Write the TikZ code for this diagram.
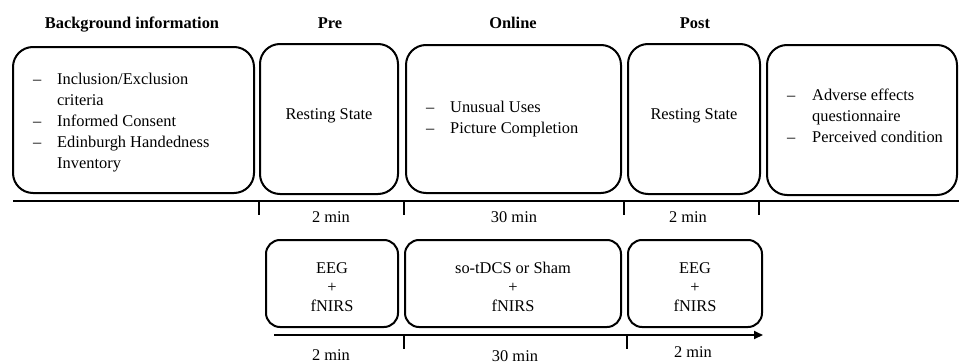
\documentclass[tikz,border=0pt]{standalone}
\usepackage{fontspec}
\setmainfont{Liberation Serif}
\usetikzlibrary{arrows.meta}
\begin{document}
\begin{tikzpicture}[x=1pt,y=-1pt,
  every node/.style={font=\fontsize{16.4}{21}\selectfont, inner sep=0pt},
  topbox/.style={draw, line width=2pt, rounded corners=20pt},
  botbox/.style={draw, line width=2pt, rounded corners=14pt, minimum height=87pt},
  head/.style={font=\fontsize{16.4}{21}\selectfont\bfseries, anchor=base},
  lbl/.style={anchor=base},
  list/.style={anchor=base west},
  btext/.style={anchor=base, font=\fontsize{16.4}{19}\selectfont},
  tickline/.style={line width=2pt},
  axisline/.style={line width=2.4pt}]
\useasboundingbox (0,0) rectangle (959,364);

% headings
\node[head] (hbg) at (132,28) {Background information};
\node[head] (hpre) at (330,28) {Pre};
\node[head] (honl) at (513,28) {Online};
\node[head] (hpost) at (695,28) {Post};

% top boxes
\node[topbox, minimum width=241pt, minimum height=146pt] (bg) at (133.5,120) {};
\node[topbox, minimum width=138pt, minimum height=150pt] (pre) at (329,119) {};
\node[topbox, minimum width=215pt, minimum height=148pt] (onl) at (513.5,119) {};
\node[topbox, minimum width=132pt, minimum height=150pt] (post) at (694,119) {};
\node[topbox, minimum width=190pt, minimum height=150pt] (last) at (862,120) {};

% top box texts
\node[list] (bgtext) at (33,84) {\begin{tabular}[t]{@{}p{24pt}@{}l@{}}
– & Inclusion/Exclusion\\
 & criteria\\
– & Informed Consent\\
– & Edinburgh Handedness\\
 & Inventory
\end{tabular}};
\node[lbl] (pretext) at (329,119) {Resting State};
\node[list] (onltext) at (426,112) {\begin{tabular}[t]{@{}p{24pt}@{}l@{}}
– & Unusual Uses\\
– & Picture Completion
\end{tabular}};
\node[lbl] (posttext) at (694,119) {Resting State};
\node[list] (lasttext) at (787,100) {\begin{tabular}[t]{@{}p{25pt}@{}l@{}}
– & Adverse effects\\
 & questionnaire\\
– & Perceived condition
\end{tabular}};

% main timeline
\coordinate (ls) at (13,201);
\coordinate (le) at (959,201);
\draw[axisline] (ls) -- (le);
\coordinate (t1) at (259,201);
\coordinate (t2) at (404,201);
\coordinate (t3) at (624,201);
\coordinate (t4) at (759,201);
\coordinate (t1e) at (259,215);
\coordinate (t2e) at (404,215);
\coordinate (t3e) at (624,215);
\coordinate (t4e) at (759,215);
\draw[tickline] (t1) -- (t1e);
\draw[tickline] (t2) -- (t2e);
\draw[tickline] (t3) -- (t3e);
\draw[tickline] (t4) -- (t4e);
\node[lbl] (d1) at (331,222) {2 min};
\node[lbl] (d2) at (514,222) {30 min};
\node[lbl] (d3) at (688,222) {2 min};

% bottom boxes
\node[botbox, minimum width=132pt] (b1) at (332,283.5) {};
\node[botbox, minimum width=216pt] (b2) at (513,283.5) {};
\node[botbox, minimum width=134pt] (b3) at (695,283.5) {};
\node[btext] (b1t) at (332,273) {\begin{tabular}[t]{@{}c@{}}EEG\\+\\fNIRS\end{tabular}};
\node[btext] (b2t) at (513,273) {\begin{tabular}[t]{@{}c@{}}so-tDCS or Sham\\+\\fNIRS\end{tabular}};
\node[btext] (b3t) at (695,273) {\begin{tabular}[t]{@{}c@{}}EEG\\+\\fNIRS\end{tabular}};

% bottom timeline
\coordinate (as) at (274,335);
\coordinate (ae) at (763,335);
\draw[tickline, -{Triangle[length=9pt,width=8pt]}] (as) -- (ae);
\coordinate (u1) at (404,335);
\coordinate (u2) at (627,335);
\coordinate (u1e) at (404,349);
\coordinate (u2e) at (627,349);
\draw[tickline] (u1) -- (u1e);
\draw[tickline] (u2) -- (u2e);
\node[lbl] (e1) at (331,360) {2 min};
\node[lbl] (e2) at (515,361.5) {30 min};
\node[lbl] (e3) at (693,357) {2 min};
\end{tikzpicture}
\end{document}
